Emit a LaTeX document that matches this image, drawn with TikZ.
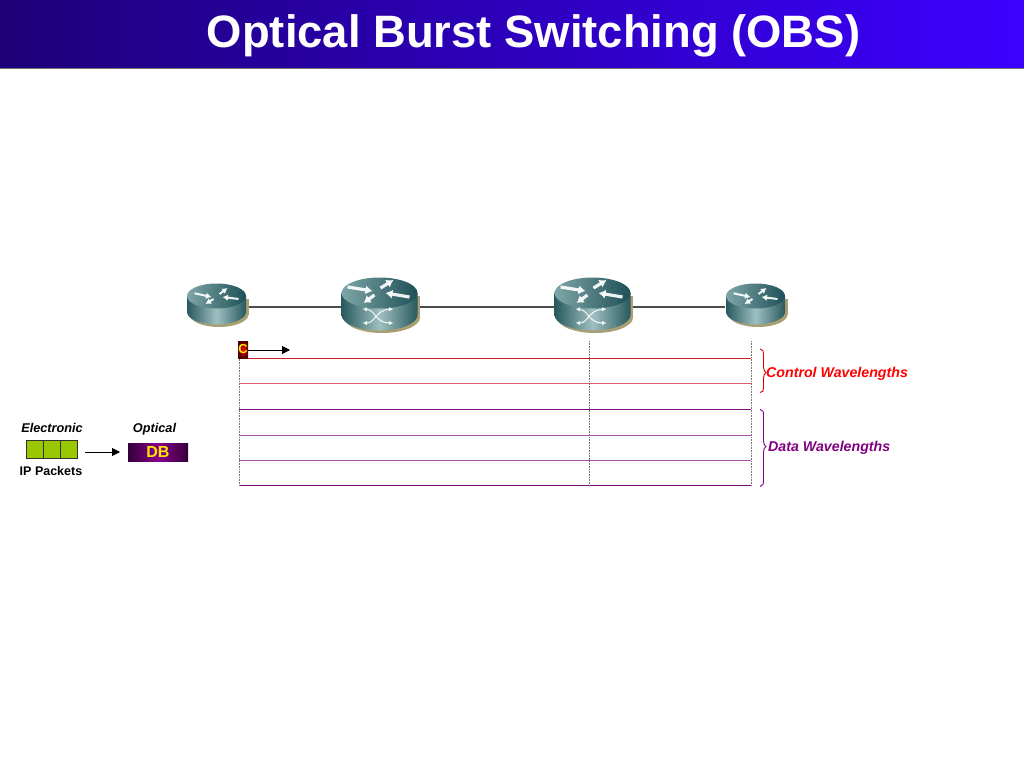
\documentclass[tikz,border=0pt]{standalone}
\usepackage{fontspec}
\setmainfont{Liberation Sans}
\usetikzlibrary{arrows.meta,shadings}
\definecolor{barL}{HTML}{1E0078}
\definecolor{barR}{HTML}{3C00FF}
\definecolor{rDark}{HTML}{28595E}
\definecolor{rLight}{HTML}{9FC0C1}
\definecolor{rTopL}{HTML}{7FA6A8}
\definecolor{rTopD}{HTML}{1D5057}
\definecolor{rShadow}{HTML}{A89F72}
\definecolor{ctlRed}{HTML}{C81E28}
\definecolor{ctlRedL}{HTML}{DC6068}
\definecolor{dataP}{HTML}{7A0F7A}
\definecolor{dataPL}{HTML}{A850A8}
\definecolor{txtP}{HTML}{800080}
\definecolor{dbEdge}{HTML}{33003A}
\definecolor{dbMid}{HTML}{8A008A}
\definecolor{green1}{HTML}{99C800}
\tikzset{
  anchorbox/.style={inner sep=0pt,minimum height=4pt,outer sep=0pt},
  link/.style={draw=black!70,line width=1.1pt},
  rarrow/.style={draw=white,line width=2pt,opacity=.92,-{Latex[length=5.5pt,width=6.5pt]}},
  rarrowbig/.style={draw=white,line width=3.2pt,opacity=.92,-{Latex[length=7pt,width=9pt]}},
  xarrow/.style={draw=white,line width=1.1pt,opacity=.85,{Latex[length=4.5pt,width=4.5pt]}-{Latex[length=4.5pt,width=4.5pt]}},
  blackarrow/.style={draw=black,line width=1pt,-{Triangle[length=8pt,width=8pt]}},
  grid/.style={draw=black!55,line width=1pt,dash pattern=on .8pt off .8pt},
  lab/.style={font=\bfseries\itshape\fontsize{12.7}{14}\selectfont,inner sep=0pt,anchor=base},
  labbig/.style={font=\bfseries\itshape\fontsize{14.2}{16}\selectfont,inner sep=0pt,anchor=west},
  brace/.style={line width=.9pt},
  cellbox/.style={draw=black!80,fill=green1,line width=.6pt,minimum width=17pt,minimum height=18pt,inner sep=0pt,outer sep=0pt},
}
\newcommand{\routerbody}[4]{% cx, rx, ry, half-offset
  \fill[rShadow] (#1+2.5,304+#4+2.5) ellipse ({#2} and {#3});
  \fill[rShadow] (#1-#2+2.5,304-#4+2.5) rectangle (#1+#2+2.5,304+#4+2.5);
  \path[left color=rDark,right color=rDark,middle color=rLight]
    (#1-#2,304-#4) -- (#1-#2,304+#4) arc[start angle=180,end angle=0,x radius=#2,y radius=#3] -- (#1+#2,304-#4) -- cycle;
  \path[shading angle=115,left color=rTopL,right color=rTopD]
    (#1,304-#4) ellipse ({#2} and {#3});
}
\newcommand{\smallarrows}[1]{%
  \begin{scope}[shift={(#1,304)}]
    \draw[rarrow] (-22,-10.7) -- (-5,-7);
    \draw[rarrow] (3,-10) -- (11,-16);
    \draw[rarrow] (22,-5) -- (6,-7);
    \draw[rarrow] (-3,-5) -- (-11,0);
  \end{scope}}
\newcommand{\largearrows}[1]{%
  \begin{scope}[shift={(#1,304)}]
    \draw[rarrowbig] (-32,-17) -- (-7,-13);
    \draw[rarrowbig] (1,-16) -- (14,-24);
    \draw[rarrowbig] (30,-7) -- (6,-11);
    \draw[rarrowbig] (-5,-9) -- (-16,-1);
    \draw[xarrow] (-17,5) .. controls (-4,6) and (-4,19) .. (14,19);
    \draw[xarrow] (-17,19) .. controls (-4,19) and (-4,6) .. (14,5);
  \end{scope}}
\begin{document}
\begin{tikzpicture}[x=1pt,y=-1pt]
\useasboundingbox (0,0) rectangle (1024,768);
% title bar
\path[left color=barL,right color=barR] (0,0) rectangle (1024,68);
\draw[black!55,line width=.8pt] (0,68.3) -- (1024,68.3);
\node[font=\bfseries\fontsize{45.4}{50}\selectfont,text=white,inner sep=0pt] (title) at (533.5,35.5) {Optical Burst Switching (OBS)};

% router anchors
\node[anchorbox,minimum width=61pt] (r1) at (216.5,307) {};
\node[anchorbox,minimum width=77pt] (r2) at (379.5,307) {};
\node[anchorbox,minimum width=77pt] (r3) at (592.5,307) {};
\node[anchorbox,minimum width=61pt] (r4) at (755.5,307) {};
\draw[link] (r1) -- (r2);
\draw[link] (r2) -- (r3);
\draw[link] (r3) -- (r4);

\routerbody{216.5}{29.5}{12.5}{8}
\smallarrows{216.5}
\routerbody{379.5}{38}{15.5}{11}
\largearrows{379.5}
\routerbody{592.5}{38}{15.5}{11}
\largearrows{592.5}
\routerbody{755.5}{29.5}{12.5}{8}
\smallarrows{755.5}

% wavelength grid
\foreach \n/\y/\c in {a/358.5/ctlRed,b/383.5/ctlRedL,c/409.5/dataP,d/435.5/dataPL,e/460.5/dataPL,f/485.5/dataP}{
  \coordinate (L\n) at (239,\y);
  \coordinate (R\n) at (751,\y);
  \draw[\c,line width=1pt] (L\n) -- (R\n);
}
\foreach \n/\x in {v1/239,v2/589,v3/751}{
  \coordinate (\n t) at (\x,341);
  \coordinate (\n b) at (\x,486.5);
  \draw[grid] (\n t) -- (\n b);
}

% control packet
\node[minimum width=10pt,minimum height=17pt,inner sep=0pt,outer sep=0pt,
  inner color=red!90!orange,outer color=red!30!black,text=yellow!85!orange,
  font=\bfseries\fontsize{13}{14}\selectfont] (cbox) at (243,349.5) {C};
\coordinate (cend) at (290,350);
\draw[blackarrow] (cbox.east |- cend) -- (cend);

% braces
\draw[red!85!black,brace] (760,349) .. controls (763,349.5) and (763.5,351) .. (763.5,354)
  -- (763.5,367) .. controls (763.5,370) and (764.5,371.5) .. (766,372.5)
  .. controls (764.5,373.5) and (763.5,375) .. (763.5,378)
  -- (763.5,388) .. controls (763.5,391) and (763,392) .. (760,392.5);
\draw[txtP,brace] (760,409.5) .. controls (763,410) and (763.5,411.5) .. (763.5,415)
  -- (763.5,441) .. controls (763.5,444) and (764.5,445.5) .. (766,446.5)
  .. controls (764.5,447.5) and (763.5,449) .. (763.5,452)
  -- (763.5,480) .. controls (763.5,484) and (763,486) .. (760,486.5);
\node[labbig,text=red] (ctl) at (766,373.5) {Control Wavelengths};
\node[labbig,text=txtP] (dat) at (768,448) {Data Wavelengths};

% packets
\node[lab] (elec) at (52,432) {Electronic};
\node[lab] (opt) at (154.5,432) {Optical};
\node[font=\bfseries\fontsize{12.5}{14}\selectfont,inner sep=0pt,anchor=base] (ip) at (51,475) {IP Packets};
\node[cellbox] (p1) at (34.5,449) {};
\node[cellbox] (p2) at (51.5,449) {};
\node[cellbox] (p3) at (68.5,449) {};
\node[minimum width=60pt,minimum height=18pt,inner sep=0pt,outer sep=0pt,
  left color=dbEdge,right color=dbEdge,middle color=dbMid,text=yellow!90!orange,
  font=\bfseries\fontsize{16}{18}\selectfont] (db) at (158,452) {DB};
\draw[blackarrow,shorten <=8pt,shorten >=8pt] (p3.east |- db) -- (db.west);
\end{tikzpicture}
\end{document}
